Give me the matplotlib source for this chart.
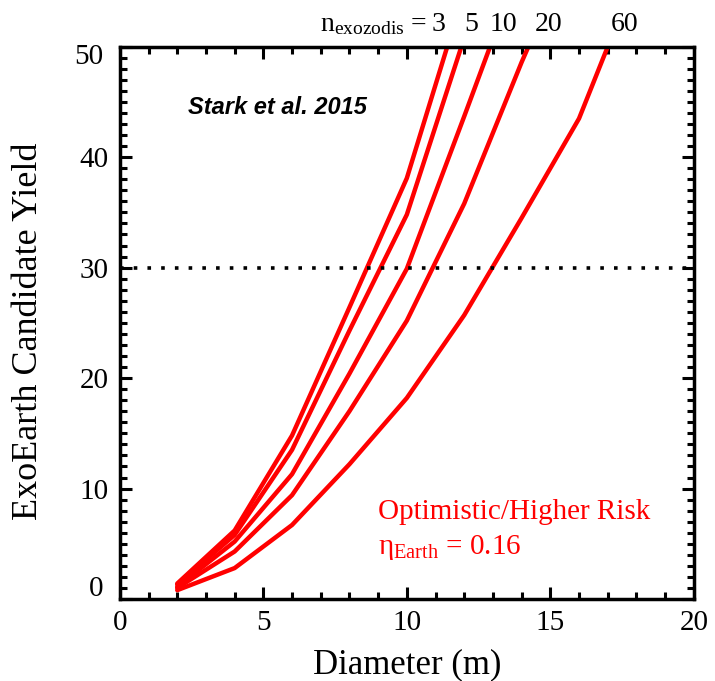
import matplotlib
matplotlib.use("Agg")
import matplotlib.pyplot as plt
from matplotlib.ticker import MultipleLocator

# exoEarth candidate yield vs. telescope diameter for several exozodi levels
diameter = [2, 4, 6, 8, 10, 12, 14, 16, 18]
yield_n3 = [1.4, 6.2, 14.8, 26.4, 38.1, 55.0]
yield_n5 = [1.3, 5.8, 13.5, 24.3, 34.8, 50.8]
yield_n10 = [1.1, 5.2, 11.3, 20.4, 29.9, 43.7, 57.7]
yield_n20 = [1.0, 4.3, 9.4, 17.0, 25.2, 35.8, 48.6, 60.5]
yield_n60 = [0.8, 2.8, 6.7, 12.2, 18.2, 25.7, 34.5, 43.5, 56.5]
curves = [yield_n3, yield_n5, yield_n10, yield_n20, yield_n60]

n_labels = ["3", "5", "10", "20", "60"]
n_label_x = [11.09, 12.24, 13.35, 14.95, 17.57]
y_ticks = [0, 10, 20, 30, 40, 50]
target_yield = 30

SERIF = "Liberation Serif"
RED = "#ff0000"

plt.rcParams["mathtext.fontset"] = "custom"
plt.rcParams["mathtext.rm"] = SERIF
plt.rcParams["mathtext.it"] = SERIF

fig = plt.figure(figsize=(7.15, 6.81), dpi=100)
ax = fig.add_axes([0.1676, 0.1204, 0.8028, 0.811])

for ys in curves:
    ax.plot(diameter[:len(ys)], ys, color=RED, lw=3.2, solid_joinstyle="round",
            solid_capstyle="round")

ax.axhline(target_yield, color="black", lw=2.6, linestyle=(0, (1, 2.8)))

ax.set_xlim(0, 20)
ax.set_ylim(0, 50)
ax.xaxis.set_major_locator(MultipleLocator(5))
ax.xaxis.set_minor_locator(MultipleLocator(1))
ax.set_yticks(y_ticks)
# end labels sit inside the frame, drawn separately below
ax.set_yticklabels([""] + [str(v) for v in y_ticks[1:-1]] + [""])
ax.yaxis.set_minor_locator(MultipleLocator(1))
ax.tick_params(which="both", direction="in", top=True, right=True, width=2.2,
               labelsize=21, pad=8)
ax.tick_params(which="major", length=8.5)
ax.tick_params(which="minor", length=5)
for lab in ax.get_xticklabels() + ax.get_yticklabels():
    lab.set_fontfamily(SERIF)
for sp in ax.spines.values():
    sp.set_linewidth(2.5)

ytrans = ax.get_yaxis_transform()
ax.text(-0.028, 0.95, str(y_ticks[0]), transform=ytrans, fontfamily=SERIF,
        fontsize=21, ha="right", va="center")
ax.text(-0.028, 49.1, str(y_ticks[-1]), transform=ytrans, fontfamily=SERIF,
        fontsize=21, ha="right", va="center")

ax.set_xlabel("Diameter (m)", fontfamily=SERIF, fontsize=25, labelpad=9)
ax.set_ylabel("ExoEarth Candidate Yield", fontfamily=SERIF, fontsize=26)
ax.yaxis.set_label_coords(-0.13, 0.485)

ax.text(2.38, 44.5, "Stark et al. 2015", fontfamily="Liberation Sans", fontsize=17,
        fontweight="bold", fontstyle="italic", va="center")

ax.text(10.75, 51.45, r"n$_{\mathregular{exozodis}}$ = ", fontfamily=SERIF,
        fontsize=20, ha="right", va="baseline", clip_on=False)
for lab, xp in zip(n_labels, n_label_x):
    ax.text(xp, 51.45, lab, fontfamily=SERIF, fontsize=20, ha="center",
            va="baseline", clip_on=False)

ax.text(9.0, 7.9, "Optimistic/Higher Risk", fontfamily=SERIF, fontsize=21,
        color=RED, va="center")
ax.text(9.0, 4.7, r"$\mathregular{\eta_{Earth}}$ = 0.16", fontfamily=SERIF,
        fontsize=21, color=RED, va="center")

fig.savefig("out.png", dpi=100)
